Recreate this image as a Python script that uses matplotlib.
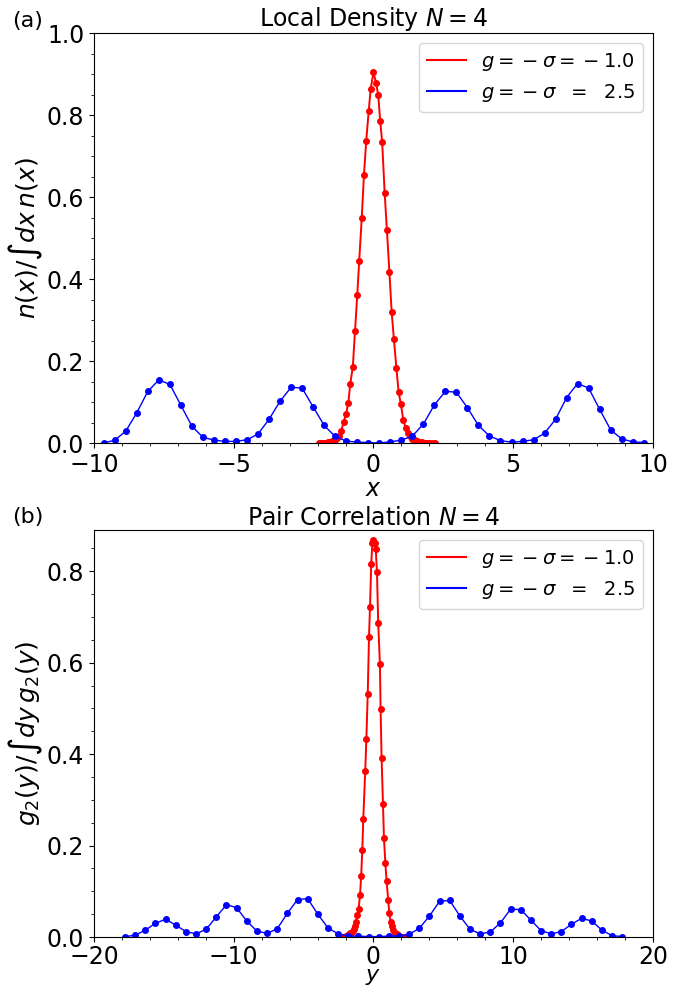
import numpy as np
import matplotlib
matplotlib.use("Agg")
import matplotlib.pyplot as plt
from matplotlib.lines import Line2D
from matplotlib.ticker import MultipleLocator

# --- panel (a): local density ---
x_blue_a = np.linspace(-9.65, 9.67, 50)
n_blue = [0.000, 0.007, 0.029, 0.074, 0.126, 0.154, 0.143, 0.092, 0.041, 0.014,
          0.007, 0.004, 0.004, 0.008, 0.022, 0.058, 0.102, 0.136, 0.134, 0.088,
          0.043, 0.016, 0.005, 0.002, 0.001,
          0.000, 0.003, 0.007, 0.017, 0.046, 0.093, 0.126, 0.124, 0.086, 0.043,
          0.017, 0.006, 0.002, 0.004, 0.008, 0.024, 0.058, 0.111, 0.145, 0.134,
          0.082, 0.032, 0.010, 0.003, 0.001]

x_red_a = [-1.96, -1.88, -1.80, -1.72, -1.63, -1.55, -1.47, -1.39, -1.31,
           -1.23, -1.15, -1.07, -0.98, -0.90, -0.83, -0.74, -0.66, -0.58, -0.51,
           -0.42, -0.34, -0.26, -0.17, -0.10, 0.00, 0.09, 0.17, 0.24, 0.31, 0.40,
           0.48, 0.57, 0.65, 0.73, 0.82, 0.90, 0.98, 1.07, 1.15, 1.23,
           1.31, 1.39, 1.47, 1.55, 1.63, 1.72, 1.80, 1.88, 1.96, 2.04, 2.12, 2.20]
n_red = [0.000, 0.000, 0.001, 0.001, 0.002, 0.003, 0.005, 0.008, 0.012,
         0.017, 0.030, 0.051, 0.071, 0.098, 0.145, 0.185, 0.274, 0.361, 0.445,
         0.549, 0.654, 0.737, 0.810, 0.864, 0.904, 0.879, 0.849, 0.785, 0.735, 0.610,
         0.520, 0.417, 0.320, 0.254, 0.183, 0.124, 0.095, 0.055, 0.037, 0.024,
         0.016, 0.010, 0.007, 0.004, 0.003, 0.002, 0.001, 0.001, 0.001, 0.000, 0.000, 0.000]

# --- panel (b): pair correlation ---
y_blue_b = np.linspace(-17.78, 17.80, 50)
g_blue = [0.001, 0.004, 0.015, 0.030, 0.039, 0.026, 0.012, 0.007, 0.017, 0.044,
          0.071, 0.064, 0.035, 0.013, 0.008, 0.018, 0.052, 0.082, 0.084, 0.050,
          0.020, 0.007, 0.002, 0.002, 0.001,
          0.001, 0.002, 0.002, 0.006, 0.019, 0.046, 0.078, 0.080, 0.046, 0.017,
          0.007, 0.011, 0.031, 0.061, 0.060, 0.037, 0.014, 0.007, 0.012, 0.028,
          0.041, 0.035, 0.015, 0.003, 0.001]

y_red_b = [-2.40, -2.32, -2.24, -2.16, -2.08, -2.00, -1.92, -1.84, -1.77, -1.68,
           -1.59, -1.50, -1.42, -1.32, -1.25, -1.16, -1.06, -0.96, -0.88, -0.80,
           -0.73, -0.59, -0.51, -0.41, -0.32, -0.25, -0.16, -0.08, 0.00, 0.08,
           0.16, 0.25, 0.34, 0.46, 0.51, 0.58, 0.68, 0.75, 0.85, 0.94, 1.05,
           1.13, 1.23, 1.32, 1.42, 1.54, 1.66, 1.76, 1.86, 1.96, 2.06, 2.16, 2.26, 2.37]
g_red = [0.000, 0.000, 0.001, 0.001, 0.001, 0.002, 0.003, 0.004, 0.006, 0.008,
         0.009, 0.013, 0.018, 0.024, 0.032, 0.049, 0.062, 0.093, 0.134, 0.190,
         0.259, 0.363, 0.433, 0.532, 0.656, 0.721, 0.816, 0.862, 0.869, 0.862,
         0.849, 0.798, 0.686, 0.597, 0.498, 0.392, 0.291, 0.216, 0.161, 0.122, 0.082,
         0.053, 0.033, 0.024, 0.015, 0.009, 0.006, 0.004, 0.002, 0.001, 0.001, 0.000, 0.000, 0.000]

# spacing mimics the old mathtext look of the original legend
lab_red = r"$g = \:-\:\sigma = \:-\:1.0$"
lab_blue = r"$g = \:-\:\sigma\ \ =\ \ 2.5$"

plt.rcParams['font.size'] = 14

fig = plt.figure(figsize=(6.94, 9.92), dpi=100)
ax1 = fig.add_axes([0.1354, 0.5534, 0.8055, 0.4133])
ax2 = fig.add_axes([0.1354, 0.0554, 0.8055, 0.4103])


def draw(ax, xr, yr, xb, yb):
    ax.plot(xr, yr, color='red', marker='o', ms=4, lw=1.4)
    ax.plot(xb, yb, color='blue', marker='o', ms=4, lw=1.0)
    handles = [Line2D([], [], color='red', lw=1.5),
               Line2D([], [], color='blue', lw=1.5)]
    ax.legend(handles, [lab_red, lab_blue], loc='upper right', fontsize=14)


draw(ax1, x_red_a, n_red, x_blue_a, n_blue)
ax1.set_xlim(-10, 10)
ax1.set_ylim(0, 1.0)
ax1.xaxis.set_major_locator(MultipleLocator(5))
ax1.xaxis.set_minor_locator(MultipleLocator(1))
ax1.yaxis.set_major_locator(MultipleLocator(0.2))
ax1.yaxis.set_minor_locator(MultipleLocator(0.05))
ax1.set_xlabel(r"$x$", fontsize=17, labelpad=0)
ax1.set_ylabel(r"$n(x)/\int dx\, n(x)$", fontsize=18, labelpad=1)
ax1.set_title(r"Local Density $N = 4$", fontsize=17, pad=2)

draw(ax2, y_red_b, g_red, y_blue_b, g_blue)
ax2.set_xlim(-20, 20)
ax2.set_ylim(0, 0.89)
ax2.xaxis.set_major_locator(MultipleLocator(10))
ax2.xaxis.set_minor_locator(MultipleLocator(2))
ax2.yaxis.set_major_locator(MultipleLocator(0.2))
ax2.yaxis.set_minor_locator(MultipleLocator(0.05))
ax2.set_xlabel(r"$y$", fontsize=16, labelpad=-1)
ax2.set_ylabel(r"$g_2(y)/\int dy\, g_2(y)$", fontsize=18, labelpad=1)
ax2.set_title(r"Pair Correlation $N = 4$", fontsize=17, pad=2)

for ax in (ax1, ax2):
    ax.tick_params(which='major', labelsize=17)
ax2.tick_params(axis='x', which='major', pad=2)

fig.text(0.018, 0.979, "(a)", fontsize=16, va='center', ha='left')
fig.text(0.018, 0.479, "(b)", fontsize=16, va='center', ha='left')

fig.savefig("out.png", dpi=100)
